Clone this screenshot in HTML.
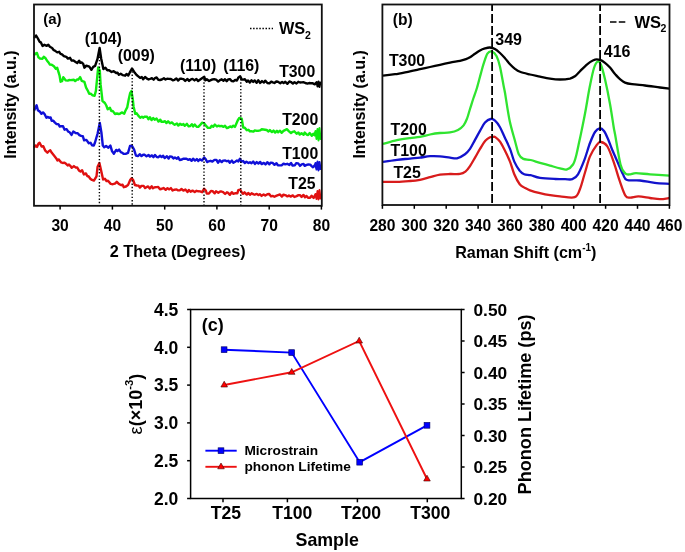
<!DOCTYPE html><html><head><meta charset="utf-8"><style>html,body{margin:0;padding:0;background:#fff;}svg{display:block;will-change:transform;}text{font-family:"Liberation Sans",sans-serif;font-weight:bold;fill:#000;}</style></head><body>
<svg width="685" height="552" viewBox="0 0 685 552">
<rect width="685" height="552" fill="#fff"/>
<polyline points="34.0,147.6 35.5,145.5 37.0,146.9 38.4,143.7 39.6,142.7 41.6,146.5 43.3,146.2 45.3,150.7 47.4,152.7 48.8,151.2 50.3,150.3 51.8,152.8 54.0,155.5 56.3,158.4 57.4,160.5 58.7,159.4 61.0,162.3 62.8,163.0 64.5,162.6 65.9,163.7 67.7,165.5 69.0,164.6 70.3,165.8 71.7,167.7 73.9,166.1 75.8,167.6 77.1,167.4 78.9,170.4 80.5,171.5 82.1,170.3 83.9,174.4 85.9,173.4 87.2,176.0 88.7,176.5 90.3,178.7 92.0,179.9 93.9,180.6 96.5,176.4 97.6,166.7 99.4,163.0 100.5,167.7 103.1,179.5 104.9,178.8 106.5,181.1 108.0,180.8 110.7,183.9 112.9,184.2 114.9,183.7 116.8,181.8 118.8,183.9 121.3,185.2 122.6,184.7 123.8,187.2 126.0,186.5 128.0,185.1 130.3,179.7 131.6,178.3 133.1,179.8 134.9,185.0 136.9,185.5 138.6,185.6 139.9,187.6 141.4,185.9 143.6,185.9 145.1,188.0 146.9,186.9 148.1,186.4 149.8,188.5 151.7,186.3 153.0,188.2 154.8,187.3 156.8,187.1 158.2,186.9 160.0,189.2 162.0,188.8 163.5,188.0 165.7,189.8 167.5,188.2 169.1,189.4 170.9,188.1 172.6,190.5 174.5,189.7 176.6,189.4 178.2,190.4 179.7,190.4 181.5,189.0 183.4,190.6 185.4,189.5 187.5,192.0 188.9,190.0 190.6,191.7 192.5,190.6 194.7,192.1 196.5,190.8 198.4,191.3 200.1,191.4 202.1,192.2 204.0,188.7 205.8,190.5 206.8,193.6 208.9,193.5 211.0,190.9 212.6,191.1 214.7,193.3 216.0,191.3 218.3,192.7 220.2,191.5 221.5,191.5 223.1,192.1 225.1,194.0 226.9,192.3 228.1,192.9 229.9,194.8 231.8,192.2 233.4,193.8 235.5,193.2 237.3,193.3 238.3,190.2 240.1,189.7 241.5,191.9 243.0,193.8 244.5,192.3 246.8,194.6 248.2,193.0 250.2,194.8 251.6,193.3 253.6,194.4 254.7,194.7 256.8,193.9 258.4,195.1 259.8,194.2 261.6,195.9 263.6,194.4 265.3,195.6 267.4,194.3 269.2,194.0 271.1,196.4 272.6,195.9 274.4,196.8 276.1,195.9 278.0,195.1 280.0,194.4 281.8,196.6 283.5,194.6 285.7,195.3 287.4,196.4 288.9,195.4 290.6,196.6 292.8,195.4 294.4,197.0 296.6,196.1 298.5,195.1 299.9,195.1 301.6,196.9 303.5,194.9 305.0,197.3 306.5,195.9 308.0,197.7 310.1,197.7 311.6,195.7 313.6,197.9 315.2,195.8 316.9,196.3 318.6,196.0 320.0,197.2" fill="none" stroke="#e01010" stroke-width="2.4" stroke-linejoin="round"/>
<polyline points="34.0,110.6 36.6,105.3 37.9,110.2 40.0,111.8 41.4,113.8 43.0,112.4 44.4,113.8 46.4,117.8 47.9,116.9 49.2,117.8 50.6,117.4 51.7,120.8 53.4,120.8 54.7,122.4 56.6,124.1 58.3,124.1 59.8,126.5 61.1,126.1 63.0,126.3 64.6,129.7 66.6,129.2 68.2,131.7 69.5,132.1 71.5,134.9 73.3,131.5 75.6,133.0 77.7,133.2 79.4,135.1 81.1,135.9 82.8,136.2 84.1,140.3 86.4,139.9 88.8,143.2 90.6,142.8 92.0,145.2 93.8,145.5 95.0,142.5 97.6,133.5 99.8,123.0 101.4,132.5 102.8,145.5 104.2,147.3 106.1,146.0 108.4,147.7 110.4,145.6 112.1,151.3 113.9,153.7 116.2,149.9 117.5,151.0 119.1,149.6 120.8,152.1 122.2,152.8 123.8,153.9 125.6,153.9 128.0,152.9 130.0,146.0 131.8,145.6 134.1,149.6 135.9,155.5 138.1,156.1 139.7,154.2 141.5,156.1 143.2,154.7 144.7,154.8 146.5,156.3 148.6,154.9 149.8,156.6 151.9,155.4 153.5,157.2 155.0,154.9 156.8,157.1 158.4,157.2 160.1,155.7 161.6,157.1 163.2,155.8 164.7,158.1 166.9,156.2 168.6,158.6 169.8,156.5 171.7,156.6 173.4,158.4 174.9,157.5 176.9,158.8 178.2,157.2 179.7,160.0 181.9,159.5 183.2,158.7 185.2,158.7 186.4,158.7 188.1,159.8 189.9,159.1 191.6,160.8 193.1,158.7 195.0,160.6 196.8,159.1 198.3,161.0 199.9,159.3 201.9,160.6 204.2,157.5 205.6,159.0 207.1,162.1 208.6,161.3 210.5,160.8 212.4,161.5 214.5,159.9 216.4,159.9 218.0,162.7 219.8,160.3 221.7,162.1 223.1,160.6 225.3,160.5 226.6,161.2 228.4,160.8 229.8,162.7 231.9,160.6 233.4,162.7 235.2,161.7 237.0,160.4 238.4,161.4 240.0,158.7 241.4,161.7 243.1,161.0 244.8,163.1 246.4,161.7 248.5,163.0 250.0,162.2 251.5,163.3 253.2,161.5 254.9,163.9 256.7,162.1 258.4,163.5 260.2,161.9 261.6,164.1 263.8,162.9 265.5,164.5 267.3,162.2 269.4,164.3 270.8,162.6 272.6,162.9 274.5,164.8 276.5,163.2 277.9,165.2 279.9,165.4 281.6,165.3 283.5,163.6 285.2,164.4 287.2,163.8 289.3,164.9 291.0,163.0 292.6,165.6 294.8,165.3 296.2,163.2 298.2,163.4 300.0,165.9 301.7,164.3 303.5,163.9 304.7,165.8 306.6,164.9 308.3,164.5 310.2,164.6 311.9,166.4 313.0,167.3 315.1,165.0 316.6,167.9 318.3,165.9 320.0,167.3" fill="none" stroke="#1010d8" stroke-width="2.4" stroke-linejoin="round"/>
<polyline points="34.0,55.3 35.7,53.4 37.0,53.0 38.4,57.3 40.0,58.5 42.5,58.7 43.7,56.8 45.6,58.3 46.9,60.5 48.3,62.2 49.9,64.6 51.7,64.7 53.9,66.3 55.8,68.8 57.2,67.8 59.6,75.7 60.6,81.7 62.1,81.2 63.3,77.2 65.8,80.4 67.7,80.6 69.4,80.0 70.7,80.1 73.7,79.7 75.2,81.1 77.2,79.4 78.3,79.6 80.1,77.1 81.8,80.9 84.4,81.9 86.1,87.6 88.1,91.3 89.2,93.8 91.0,93.8 92.6,95.3 94.6,95.7 95.9,90.9 97.5,74.4 98.2,67.4 99.8,70.8 100.6,84.4 102.5,101.0 104.9,103.0 106.3,105.5 107.7,109.3 109.9,107.8 111.3,111.1 112.7,110.9 115.0,114.0 116.9,113.5 118.7,114.0 119.8,113.8 121.8,112.4 124.2,113.7 125.3,111.0 127.2,107.4 128.7,99.6 130.1,93.2 131.4,91.1 132.7,98.5 133.6,106.7 135.3,113.9 136.7,113.3 138.1,115.4 140.2,117.8 141.9,116.7 143.1,117.7 144.8,116.6 147.0,116.7 148.4,119.3 149.9,117.2 151.6,120.1 153.2,118.0 154.7,119.8 156.6,118.6 158.5,121.6 160.3,119.7 161.5,121.8 163.4,121.8 165.0,121.2 166.4,123.1 168.1,121.3 170.2,123.3 171.9,122.4 173.4,123.9 174.7,124.8 176.9,123.5 178.3,125.6 180.0,123.7 181.7,124.9 183.5,124.1 184.7,125.8 186.9,123.8 188.6,126.3 190.2,126.0 191.8,124.2 193.1,126.4 194.7,124.5 196.7,126.7 198.3,126.9 200.0,125.2 202.0,122.7 204.1,123.3 205.9,125.7 207.9,127.8 210.3,127.9 211.7,125.7 213.2,126.8 214.9,124.6 216.9,126.5 218.6,125.6 219.8,126.2 221.5,125.9 223.5,126.9 225.0,125.7 226.8,128.1 228.5,127.5 230.1,126.4 231.8,127.2 233.3,125.7 234.9,126.9 237.7,120.5 239.3,118.0 241.7,118.6 243.2,127.5 244.8,127.7 246.8,130.2 248.5,129.8 249.9,131.4 251.4,131.3 253.5,131.6 254.8,130.4 256.5,130.8 258.0,130.9 260.1,130.4 261.7,129.3 263.5,129.5 265.0,129.7 266.7,130.0 268.5,131.5 269.9,130.1 271.9,132.1 273.5,130.6 275.2,132.6 276.9,130.8 278.1,132.3 280.0,130.7 281.6,132.8 283.5,130.9 285.0,130.1 286.9,129.2 289.0,131.3 291.0,133.0 292.7,131.8 294.3,131.3 296.6,133.8 298.4,132.4 299.7,134.6 301.5,133.2 303.6,134.8 304.7,132.5 306.8,134.6 308.1,135.1 309.7,133.1 311.8,135.7 313.3,133.7 315.0,135.3 316.4,134.5 318.4,135.9 320.0,136.0" fill="none" stroke="#10ec10" stroke-width="2.4" stroke-linejoin="round"/>
<polyline points="34.0,38.0 36.1,35.5 37.9,38.5 39.6,41.8 40.9,42.4 42.6,46.0 44.4,44.8 46.8,45.9 48.3,44.8 49.9,46.8 52.1,48.0 53.6,49.9 55.5,51.1 57.3,52.4 59.2,51.8 60.5,53.8 62.0,54.3 63.9,56.1 66.3,56.8 67.9,58.6 70.0,57.8 71.7,60.6 73.5,60.5 75.6,61.9 77.3,63.0 79.1,60.7 80.3,62.8 81.6,62.4 83.2,63.9 84.4,67.7 86.3,65.6 87.8,66.1 89.3,66.7 91.4,69.8 93.2,66.9 95.1,65.9 97.5,58.9 99.6,48.0 101.2,58.7 103.4,69.1 105.4,67.8 107.3,70.3 109.1,70.2 111.6,72.0 113.7,71.2 116.2,73.0 117.5,72.7 118.9,74.8 120.7,73.8 122.9,75.2 125.1,75.7 126.5,74.0 128.3,75.5 129.7,72.7 132.0,68.5 134.8,72.8 136.6,75.0 138.0,76.1 140.1,77.9 141.8,77.0 143.2,79.3 145.1,77.0 147.0,78.6 148.6,79.5 149.9,79.0 151.9,78.2 153.6,79.7 155.3,77.8 156.6,77.5 158.3,79.8 160.0,80.0 161.8,79.5 163.9,78.3 165.5,79.5 167.1,78.7 168.9,78.9 170.9,79.0 172.8,80.3 174.5,79.8 176.4,78.4 178.1,80.5 180.1,78.7 181.7,78.8 183.5,79.2 185.2,80.9 187.5,79.0 189.1,80.9 191.0,79.3 192.5,78.9 194.5,80.4 196.4,78.9 198.1,81.0 199.9,79.7 202.0,78.3 204.3,76.8 205.4,80.3 206.8,79.3 209.1,81.0 210.8,80.2 212.5,79.4 214.2,79.3 216.1,79.6 218.2,81.6 220.0,80.1 221.7,79.3 223.5,80.8 224.8,79.2 226.7,81.2 228.1,79.4 229.9,79.1 231.6,81.0 233.7,81.2 235.2,79.9 236.9,80.5 238.5,77.4 240.2,76.3 241.8,79.5 243.2,79.6 244.9,79.3 246.8,81.7 248.1,80.5 249.8,82.6 251.5,80.3 253.2,81.9 254.7,80.4 256.6,82.8 258.2,80.3 260.2,82.9 262.0,81.1 263.9,82.6 265.2,80.7 267.4,83.0 269.4,83.4 271.2,81.6 272.8,82.4 274.4,83.0 276.3,81.5 277.9,81.8 280.3,83.2 282.1,81.9 283.6,83.1 285.3,81.8 287.4,83.8 289.4,81.4 291.0,82.0 292.9,83.6 294.5,82.2 296.5,83.5 298.3,81.8 300.1,82.5 301.6,82.4 303.8,82.3 305.3,83.0 307.5,83.6 309.1,83.0 310.7,83.2 312.4,83.2 314.8,84.3 316.5,82.9 317.9,83.1 320.0,84.0" fill="none" stroke="#000" stroke-width="2.4" stroke-linejoin="round"/>
<polyline points="314.0,197.0 315.5,194.0 316.5,199.0 317.5,191.0 318.5,199.5 319.5,190.0 320.5,198.5 321.0,196.0" fill="none" stroke="#e01010" stroke-width="2" stroke-linejoin="round"/>
<polyline points="314.0,167.0 315.5,163.0 316.5,169.5 317.5,161.5 318.5,170.5 319.5,162.0 320.5,169.0 321.0,166.0" fill="none" stroke="#1010d8" stroke-width="2" stroke-linejoin="round"/>
<polyline points="314.0,136.0 315.5,131.0 316.5,139.0 317.5,129.0 318.5,140.5 319.5,128.0 320.5,139.0 321.0,134.0" fill="none" stroke="#10ec10" stroke-width="2" stroke-linejoin="round"/>
<polyline points="315.0,84.0 316.5,82.0 317.5,86.5 318.5,81.5 319.5,87.0 320.3,82.5 321.0,85.5" fill="none" stroke="#000" stroke-width="2" stroke-linejoin="round"/>
<line x1="99.4" y1="50" x2="99.4" y2="205.8" stroke="#000" stroke-width="1.4" stroke-dasharray="1.4 1.9"/>
<line x1="132.2" y1="68" x2="132.2" y2="205.8" stroke="#000" stroke-width="1.4" stroke-dasharray="1.4 1.9"/>
<line x1="204" y1="79" x2="204" y2="205.8" stroke="#000" stroke-width="1.4" stroke-dasharray="1.4 1.9"/>
<line x1="240.8" y1="79" x2="240.8" y2="205.8" stroke="#000" stroke-width="1.4" stroke-dasharray="1.4 1.9"/>
<rect x="34" y="4.5" width="287.8" height="201.3" fill="none" stroke="#111" stroke-width="1.8"/>
<line x1="60.1" y1="205.8" x2="60.1" y2="209.60000000000002" stroke="#000" stroke-width="1.5"/>
<text x="60.1" y="231.4" font-size="15.6" text-anchor="middle">30</text>
<line x1="112.4" y1="205.8" x2="112.4" y2="209.60000000000002" stroke="#000" stroke-width="1.5"/>
<text x="112.4" y="231.4" font-size="15.6" text-anchor="middle">40</text>
<line x1="164.7" y1="205.8" x2="164.7" y2="209.60000000000002" stroke="#000" stroke-width="1.5"/>
<text x="164.7" y="231.4" font-size="15.6" text-anchor="middle">50</text>
<line x1="216.9" y1="205.8" x2="216.9" y2="209.60000000000002" stroke="#000" stroke-width="1.5"/>
<text x="216.9" y="231.4" font-size="15.6" text-anchor="middle">60</text>
<line x1="269.2" y1="205.8" x2="269.2" y2="209.60000000000002" stroke="#000" stroke-width="1.5"/>
<text x="269.2" y="231.4" font-size="15.6" text-anchor="middle">70</text>
<line x1="321.4" y1="205.8" x2="321.4" y2="209.60000000000002" stroke="#000" stroke-width="1.5"/>
<text x="321.4" y="231.4" font-size="15.6" text-anchor="middle">80</text>
<text x="177.7" y="257.1" font-size="16.2" text-anchor="middle">2 Theta (Degrees)</text>
<text transform="translate(15.9,104.6) rotate(-90)" font-size="16" text-anchor="middle">Intensity (a.u.)</text>
<text x="43.2" y="23.8" font-size="15">(a)</text>
<text x="84.8" y="43.9" font-size="15.9">(104)</text>
<text x="117.7" y="61.1" font-size="15.9">(009)</text>
<text x="180" y="71.1" font-size="15.9">(110)</text>
<text x="223.2" y="71.1" font-size="15.9">(116)</text>
<line x1="250" y1="28.4" x2="273" y2="28.4" stroke="#000" stroke-width="1.5" stroke-dasharray="1.5 1.6"/>
<text x="278.9" y="33.6" font-size="16.3">WS</text>
<text x="305.1" y="38.7" font-size="10.5">2</text>
<text x="315.2" y="77.3" font-size="15.8" text-anchor="end">T300</text>
<text x="318.2" y="124.5" font-size="15.8" text-anchor="end">T200</text>
<text x="318.2" y="158.9" font-size="15.8" text-anchor="end">T100</text>
<text x="315.5" y="189.4" font-size="15.8" text-anchor="end">T25</text>
<path d="M383.0,181.8 C385.3,181.8 392.5,181.9 397.0,181.8 C401.5,181.7 406.2,181.3 410.0,181.0 C413.8,180.7 416.7,180.4 420.0,179.8 C423.3,179.2 426.7,178.1 430.0,177.2 C433.3,176.3 436.7,175.1 440.0,174.6 C443.3,174.1 446.7,174.1 450.0,174.0 C453.3,173.9 457.4,174.3 460.0,173.9 C462.6,173.5 463.7,172.9 465.4,171.6 C467.1,170.3 468.4,168.5 470.0,166.1 C471.6,163.7 473.6,160.0 475.3,157.1 C477.0,154.2 478.3,151.6 480.0,148.9 C481.7,146.2 483.6,142.7 485.3,140.8 C487.0,138.9 488.6,138.0 490.0,137.3 C491.4,136.6 492.5,136.8 493.4,136.8 C494.3,136.8 494.2,136.3 495.3,137.1 C496.4,137.9 498.4,139.4 500.0,141.7 C501.6,144.0 503.3,147.4 505.0,150.7 C506.7,154.0 508.4,157.7 510.0,161.6 C511.6,165.5 512.7,170.5 514.3,174.3 C515.9,178.1 517.9,181.9 519.7,184.2 C521.5,186.5 523.3,186.9 525.0,187.9 C526.7,188.9 527.5,189.4 530.0,190.3 C532.5,191.2 536.7,192.4 540.0,193.2 C543.3,194.0 546.7,194.7 550.0,195.2 C553.3,195.7 555.9,196.1 560.0,196.4 C564.1,196.7 571.4,198.4 574.7,197.2 C578.0,196.0 578.3,193.1 580.0,189.0 C581.7,184.9 583.3,177.9 585.0,172.5 C586.7,167.1 588.0,161.0 590.0,156.4 C592.0,151.8 595.0,147.3 596.8,144.9 C598.6,142.5 599.1,141.7 600.9,142.0 C602.7,142.3 605.2,143.0 607.4,146.5 C609.6,150.0 612.0,157.2 614.0,162.9 C616.0,168.6 617.8,175.5 619.7,180.9 C621.6,186.3 623.6,192.8 625.4,195.6 C627.2,198.4 628.1,197.5 630.3,197.6 C632.5,197.7 635.2,196.3 638.5,196.4 C641.8,196.5 646.4,197.5 650.0,198.0 C653.6,198.5 656.8,199.2 660.0,199.2 C663.2,199.2 667.9,198.2 669.5,198.0" fill="none" stroke="#d81c1c" stroke-width="2.3"/>
<path d="M383.0,161.9 C385.3,161.6 392.5,160.4 397.0,159.8 C401.5,159.2 406.2,159.0 410.0,158.6 C413.8,158.2 416.7,158.0 420.0,157.6 C423.3,157.2 426.7,156.4 430.0,156.2 C433.3,156.0 436.7,156.1 440.0,156.3 C443.3,156.5 447.2,157.3 450.0,157.6 C452.8,157.9 454.5,158.9 457.0,158.3 C459.5,157.8 462.8,155.9 465.0,154.3 C467.2,152.7 468.3,151.3 470.0,148.9 C471.7,146.5 473.3,142.9 475.0,139.9 C476.7,136.9 478.3,133.7 480.0,130.8 C481.7,127.9 483.2,124.6 485.0,122.6 C486.8,120.6 489.0,119.3 490.7,119.0 C492.4,118.7 493.8,119.4 495.3,120.8 C496.9,122.2 498.4,124.3 500.0,127.2 C501.6,130.1 503.3,134.4 505.0,138.0 C506.7,141.6 508.4,145.0 510.0,148.9 C511.6,152.8 512.7,158.0 514.3,161.6 C515.9,165.2 518.1,168.6 519.7,170.7 C521.4,172.8 522.4,173.6 524.2,174.3 C526.0,175.1 528.0,174.6 530.6,175.2 C533.2,175.8 535.9,177.3 540.0,177.9 C544.1,178.5 550.8,178.8 555.0,179.0 C559.2,179.2 562.1,179.2 565.0,179.2 C567.9,179.2 570.1,180.0 572.3,179.2 C574.5,178.4 576.0,177.6 578.0,174.3 C580.0,171.0 582.5,164.8 584.5,159.6 C586.5,154.4 588.2,147.6 590.0,143.0 C591.8,138.4 593.4,134.4 595.0,132.0 C596.6,129.6 598.0,128.5 599.5,128.3 C601.0,128.1 602.6,129.2 604.0,131.0 C605.4,132.8 606.6,135.8 608.0,139.0 C609.4,142.2 610.6,146.0 612.3,150.0 C614.0,154.0 616.2,158.9 618.0,163.0 C619.8,167.1 621.5,171.5 623.0,174.3 C624.5,177.1 624.2,179.0 627.0,180.0 C629.8,181.0 635.4,180.0 640.0,180.5 C644.6,181.0 649.9,182.2 654.8,182.8 C659.7,183.4 667.0,183.6 669.5,183.8" fill="none" stroke="#1212cc" stroke-width="2.3"/>
<path d="M383.0,143.9 C385.3,143.3 392.5,141.2 397.0,140.2 C401.5,139.2 406.2,138.6 410.0,138.1 C413.8,137.6 416.7,137.5 420.0,136.9 C423.3,136.3 426.7,135.2 430.0,134.5 C433.3,133.8 436.7,133.3 440.0,133.0 C443.3,132.7 447.0,132.9 450.0,132.4 C453.0,131.9 455.7,131.1 458.0,129.9 C460.3,128.7 462.1,127.4 463.6,125.4 C465.1,123.4 466.1,120.8 467.2,118.1 C468.3,115.4 468.9,112.3 470.0,109.0 C471.1,105.7 472.3,101.5 473.5,98.0 C474.7,94.5 475.8,91.9 477.0,87.8 C478.2,83.7 479.8,77.3 480.9,73.4 C482.0,69.5 482.4,67.5 483.5,64.2 C484.6,60.9 486.0,55.7 487.4,53.6 C488.8,51.5 490.5,51.0 492.0,51.5 C493.5,52.0 495.3,53.8 496.6,56.3 C497.9,58.8 498.8,61.5 500.0,66.8 C501.2,72.0 503.1,83.3 504.0,87.8 C504.9,92.3 504.2,88.5 505.2,94.0 C506.1,99.5 508.0,113.0 509.7,121.0 C511.4,128.9 513.7,136.1 515.2,141.7 C516.7,147.2 517.4,151.4 518.8,154.3 C520.1,157.2 521.3,158.0 523.3,158.9 C525.3,159.8 527.8,159.3 530.6,160.0 C533.4,160.7 536.8,161.9 540.0,162.8 C543.2,163.7 546.7,164.7 550.0,165.6 C553.3,166.5 557.2,167.7 560.0,168.3 C562.8,168.9 564.8,170.0 567.0,169.4 C569.2,168.8 571.4,166.9 573.0,164.5 C574.6,162.1 575.3,158.8 576.4,154.7 C577.5,150.6 578.7,144.0 579.6,140.0 C580.5,136.0 580.7,135.2 581.6,130.6 C582.5,126.0 583.9,119.8 585.2,112.5 C586.6,105.2 588.2,94.5 589.7,87.1 C591.2,79.7 592.6,72.3 594.0,68.0 C595.4,63.7 596.7,62.0 597.9,61.5 C599.1,61.0 599.8,62.0 601.0,65.0 C602.2,68.0 603.5,72.8 605.0,79.3 C606.5,85.8 608.6,96.2 610.0,104.0 C611.4,111.8 612.7,121.0 613.5,126.0 C614.3,131.0 613.8,127.6 615.0,134.0 C616.2,140.4 618.8,157.9 620.5,164.5 C622.2,171.1 623.8,171.9 625.4,173.5 C627.0,175.1 628.5,174.4 630.3,174.3 C632.1,174.2 632.7,173.2 636.0,173.2 C639.3,173.2 644.4,173.9 650.0,174.3 C655.6,174.7 666.2,175.4 669.5,175.6" fill="none" stroke="#30e430" stroke-width="2.3"/>
<path d="M383.0,75.7 C385.0,75.5 390.5,74.9 395.0,74.2 C399.5,73.5 405.8,72.1 410.0,71.3 C414.2,70.5 416.7,69.9 420.0,69.2 C423.3,68.5 426.7,67.7 430.0,67.0 C433.3,66.3 436.7,65.5 440.0,64.8 C443.3,64.1 446.7,63.3 450.0,62.6 C453.3,61.9 457.3,61.4 460.0,60.8 C462.7,60.2 464.3,59.8 466.0,59.2 C467.7,58.6 468.5,58.2 470.0,57.3 C471.5,56.4 473.3,54.9 475.0,53.7 C476.7,52.6 478.3,51.3 480.0,50.4 C481.7,49.5 483.3,48.9 485.0,48.4 C486.7,47.9 488.3,47.4 490.0,47.5 C491.7,47.6 493.3,48.2 495.0,49.1 C496.7,50.0 498.3,51.5 500.0,53.0 C501.7,54.5 503.3,56.3 505.0,58.2 C506.7,60.1 508.3,62.4 510.0,64.2 C511.7,66.0 513.3,67.5 515.0,68.8 C516.7,70.1 517.5,70.8 520.0,71.8 C522.5,72.8 526.7,73.7 530.0,74.5 C533.3,75.3 536.7,75.9 540.0,76.6 C543.3,77.3 546.7,78.1 550.0,78.6 C553.3,79.1 556.7,79.5 560.0,79.5 C563.3,79.5 567.5,79.1 570.0,78.6 C572.5,78.0 573.3,77.4 575.0,76.2 C576.7,75.0 578.3,72.9 580.0,71.2 C581.7,69.5 583.3,67.8 585.0,66.3 C586.7,64.8 588.3,63.2 590.0,62.1 C591.7,61.0 593.3,60.0 595.0,59.6 C596.7,59.2 598.3,59.4 600.0,59.9 C601.7,60.4 603.3,61.5 605.0,62.8 C606.7,64.1 608.3,65.7 610.0,67.6 C611.7,69.5 613.3,72.1 615.0,74.0 C616.7,75.9 618.3,77.8 620.0,79.2 C621.7,80.6 623.0,81.8 625.0,82.6 C627.0,83.4 628.7,83.7 632.0,84.2 C635.3,84.7 640.3,85.0 645.0,85.5 C649.7,86.0 655.9,87.0 660.0,87.5 C664.1,88.0 667.9,88.4 669.5,88.6" fill="none" stroke="#000" stroke-width="2.3"/>
<line x1="492.1" y1="4.5" x2="492.1" y2="205" stroke="#000" stroke-width="1.8" stroke-dasharray="9 3" stroke-dashoffset="2.5"/>
<line x1="600.1" y1="4.5" x2="600.1" y2="205" stroke="#000" stroke-width="1.8" stroke-dasharray="9 3" stroke-dashoffset="2.5"/>
<rect x="382.4" y="4.5" width="287.1" height="200.5" fill="none" stroke="#111" stroke-width="1.8"/>
<line x1="382.4" y1="205" x2="382.4" y2="208.8" stroke="#000" stroke-width="1.5"/>
<text x="382.4" y="230.5" font-size="15.6" text-anchor="middle">280</text>
<line x1="414.3" y1="205" x2="414.3" y2="208.8" stroke="#000" stroke-width="1.5"/>
<text x="414.3" y="230.5" font-size="15.6" text-anchor="middle">300</text>
<line x1="446.2" y1="205" x2="446.2" y2="208.8" stroke="#000" stroke-width="1.5"/>
<text x="446.2" y="230.5" font-size="15.6" text-anchor="middle">320</text>
<line x1="478.1" y1="205" x2="478.1" y2="208.8" stroke="#000" stroke-width="1.5"/>
<text x="478.1" y="230.5" font-size="15.6" text-anchor="middle">340</text>
<line x1="510.0" y1="205" x2="510.0" y2="208.8" stroke="#000" stroke-width="1.5"/>
<text x="510.0" y="230.5" font-size="15.6" text-anchor="middle">360</text>
<line x1="541.8" y1="205" x2="541.8" y2="208.8" stroke="#000" stroke-width="1.5"/>
<text x="541.8" y="230.5" font-size="15.6" text-anchor="middle">380</text>
<line x1="573.7" y1="205" x2="573.7" y2="208.8" stroke="#000" stroke-width="1.5"/>
<text x="573.7" y="230.5" font-size="15.6" text-anchor="middle">400</text>
<line x1="605.6" y1="205" x2="605.6" y2="208.8" stroke="#000" stroke-width="1.5"/>
<text x="605.6" y="230.5" font-size="15.6" text-anchor="middle">420</text>
<line x1="637.5" y1="205" x2="637.5" y2="208.8" stroke="#000" stroke-width="1.5"/>
<text x="637.5" y="230.5" font-size="15.6" text-anchor="middle">440</text>
<line x1="669.4" y1="205" x2="669.4" y2="208.8" stroke="#000" stroke-width="1.5"/>
<text x="669.4" y="230.5" font-size="15.6" text-anchor="middle">460</text>
<text x="455.2" y="258" font-size="16.1">Raman Shift (cm<tspan font-size="10" dy="-7">-1</tspan><tspan dy="7">)</tspan></text>
<text transform="translate(365.0,104.4) rotate(-90)" font-size="16" text-anchor="middle">Intensity (a.u.)</text>
<text x="392.8" y="24.8" font-size="15.6">(b)</text>
<text x="495.3" y="44.5" font-size="16">349</text>
<text x="603.8" y="57.2" font-size="16">416</text>
<line x1="610" y1="22" x2="626" y2="22" stroke="#000" stroke-width="1.6" stroke-dasharray="6.5 2.3"/>
<text x="634.5" y="27.6" font-size="16.5">WS</text>
<text x="660.6" y="32.4" font-size="10.5">2</text>
<text x="388.9" y="66.2" font-size="15.9">T300</text>
<text x="390.5" y="135.4" font-size="15.9">T200</text>
<text x="390.5" y="156.3" font-size="15.9">T100</text>
<text x="393.4" y="178.1" font-size="15.9">T25</text>
<rect x="190.6" y="309.5" width="270.70000000000005" height="189.0" fill="none" stroke="#000" stroke-width="1.5"/>
<line x1="187.1" y1="309.5" x2="190.6" y2="309.5" stroke="#000" stroke-width="1.5"/>
<text x="178.3" y="315.8" font-size="17.5" text-anchor="end">4.5</text>
<line x1="187.1" y1="347.3" x2="190.6" y2="347.3" stroke="#000" stroke-width="1.5"/>
<text x="178.3" y="353.6" font-size="17.5" text-anchor="end">4.0</text>
<line x1="187.1" y1="385.1" x2="190.6" y2="385.1" stroke="#000" stroke-width="1.5"/>
<text x="178.3" y="391.4" font-size="17.5" text-anchor="end">3.5</text>
<line x1="187.1" y1="422.9" x2="190.6" y2="422.9" stroke="#000" stroke-width="1.5"/>
<text x="178.3" y="429.2" font-size="17.5" text-anchor="end">3.0</text>
<line x1="187.1" y1="460.7" x2="190.6" y2="460.7" stroke="#000" stroke-width="1.5"/>
<text x="178.3" y="467.0" font-size="17.5" text-anchor="end">2.5</text>
<line x1="187.1" y1="498.5" x2="190.6" y2="498.5" stroke="#000" stroke-width="1.5"/>
<text x="178.3" y="504.8" font-size="17.5" text-anchor="end">2.0</text>
<line x1="461.3" y1="309.5" x2="464.6" y2="309.5" stroke="#000" stroke-width="1.5"/>
<text x="473.5" y="315.8" font-size="17.3">0.50</text>
<line x1="461.3" y1="341.0" x2="464.6" y2="341.0" stroke="#000" stroke-width="1.5"/>
<text x="473.5" y="347.3" font-size="17.3">0.45</text>
<line x1="461.3" y1="372.5" x2="464.6" y2="372.5" stroke="#000" stroke-width="1.5"/>
<text x="473.5" y="378.8" font-size="17.3">0.40</text>
<line x1="461.3" y1="404.0" x2="464.6" y2="404.0" stroke="#000" stroke-width="1.5"/>
<text x="473.5" y="410.3" font-size="17.3">0.35</text>
<line x1="461.3" y1="435.5" x2="464.6" y2="435.5" stroke="#000" stroke-width="1.5"/>
<text x="473.5" y="441.8" font-size="17.3">0.30</text>
<line x1="461.3" y1="467.0" x2="464.6" y2="467.0" stroke="#000" stroke-width="1.5"/>
<text x="473.5" y="473.3" font-size="17.3">0.25</text>
<line x1="461.3" y1="498.5" x2="464.6" y2="498.5" stroke="#000" stroke-width="1.5"/>
<text x="473.5" y="504.8" font-size="17.3">0.20</text>
<line x1="223.0" y1="498.5" x2="223.0" y2="502.3" stroke="#000" stroke-width="1.5"/>
<text x="225.85" y="518.8" font-size="17.6" text-anchor="middle">T25</text>
<line x1="287.4" y1="498.5" x2="287.4" y2="502.3" stroke="#000" stroke-width="1.5"/>
<text x="292.3" y="518.8" font-size="17.6" text-anchor="middle">T100</text>
<line x1="357.4" y1="498.5" x2="357.4" y2="502.3" stroke="#000" stroke-width="1.5"/>
<text x="361.1" y="518.8" font-size="17.6" text-anchor="middle">T200</text>
<line x1="427.3" y1="498.5" x2="427.3" y2="502.3" stroke="#000" stroke-width="1.5"/>
<text x="430.3" y="518.8" font-size="17.6" text-anchor="middle">T300</text>
<text x="327.2" y="546.3" font-size="17.8" text-anchor="middle">Sample</text>
<text transform="translate(531,494.4) rotate(-90)" font-size="18.1">Phonon Lifetime (ps)</text>
<text transform="translate(142.4,434.4) rotate(-90)" font-size="18"><tspan font-weight="normal">ε</tspan>(×10<tspan font-size="11.3" dy="-9.5">-3</tspan><tspan dy="9.5">)</tspan></text>
<text x="201.8" y="331.3" font-size="18">(c)</text>
<polyline points="224.1,349.7 291.7,352.6 359.7,462.2 427.0,425.3" fill="none" stroke="#0000ff" stroke-width="1.9"/>
<polyline points="224.2,385.0 291.7,372.3 359.2,341.0 427.0,479.0" fill="none" stroke="#ee1111" stroke-width="1.9"/>
<rect x="221.2" y="346.8" width="5.8" height="5.8" fill="#0000ff" stroke="#000060" stroke-width="0.6"/>
<rect x="288.8" y="349.70000000000005" width="5.8" height="5.8" fill="#0000ff" stroke="#000060" stroke-width="0.6"/>
<rect x="356.8" y="459.3" width="5.8" height="5.8" fill="#0000ff" stroke="#000060" stroke-width="0.6"/>
<rect x="424.1" y="422.40000000000003" width="5.8" height="5.8" fill="#0000ff" stroke="#000060" stroke-width="0.6"/>
<polygon points="224.2,381.2 220.9,387.0 227.5,387.0" fill="#ff0000" stroke="#400000" stroke-width="0.6"/>
<polygon points="291.7,368.5 288.4,374.3 295.0,374.3" fill="#ff0000" stroke="#400000" stroke-width="0.6"/>
<polygon points="359.2,337.2 355.9,343.0 362.5,343.0" fill="#ff0000" stroke="#400000" stroke-width="0.6"/>
<polygon points="427.0,475.2 423.7,481.0 430.3,481.0" fill="#ff0000" stroke="#400000" stroke-width="0.6"/>
<line x1="205.4" y1="450.7" x2="236.7" y2="450.7" stroke="#0000ff" stroke-width="1.9"/>
<rect x="218.1" y="447.8" width="5.8" height="5.8" fill="#0000ff" stroke="#000060" stroke-width="0.6"/>
<text x="244.4" y="455.2" font-size="13.7">Microstrain</text>
<line x1="205.4" y1="466.8" x2="236.7" y2="466.8" stroke="#ee1111" stroke-width="1.9"/>
<polygon points="221,463 217.7,468.8 224.3,468.8" fill="#ff0000" stroke="#400000" stroke-width="0.6"/>
<text x="244.4" y="471.4" font-size="13.7">phonon Lifetime</text>
</svg></body></html>
